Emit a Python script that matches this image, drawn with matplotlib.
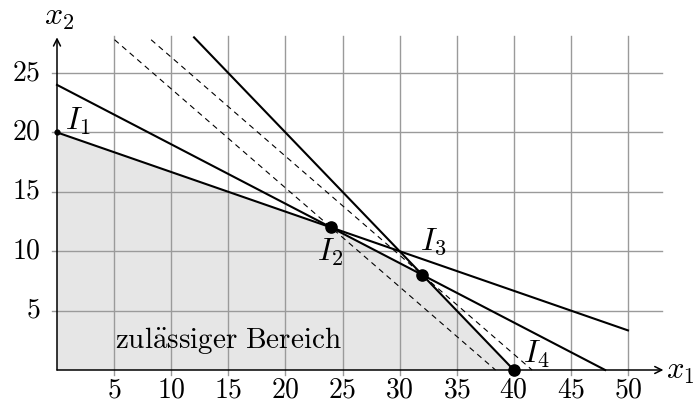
import matplotlib
matplotlib.use("Agg")
import matplotlib.pyplot as plt
import numpy as np

plt.rcParams['mathtext.fontset'] = 'cm'
plt.rcParams['font.family'] = 'serif'
plt.rcParams['font.serif'] = ['cmr10', 'DejaVu Serif']

# Data
x_ticks = [5, 10, 15, 20, 25, 30, 35, 40, 45, 50]
y_ticks = [5, 10, 15, 20, 25]
region_x = [0, 0, 24, 32, 40]
region_y = [0, 20, 12, 8, 0]
# constraint lines
line1_x = [0, 50]; line1_y = [20, 20 - 50/3]
line2_x = [0, 48]; line2_y = [24, 0]
line3_x = [12, 40]; line3_y = [28, 0]
# objective (dashed) lines through I2 and I3, slope -5/6
obj_points = [(24, 12), (32, 8)]
obj_slope = -5/6
points_x = [0, 24, 32, 40]
points_y = [20, 12, 8, 0]
point_labels = ['$I_1$', '$I_2$', '$I_3$', '$I_4$']
label_pos = [(1.85, 20.9), (23.9, 9.9), (32.9, 10.8), (42.0, 1.35)]

fig = plt.figure(figsize=(6.97, 4.08), dpi=100)
W, H = 697, 408
x0px, y0px = 57, 370
sx, sy = 11.42, 11.88
xmin, xmax = -4.9, 56
ymin, ymax = -3.2, 31
left = (x0px + xmin * sx) / W
width = (xmax - xmin) * sx / W
bottom = (H - y0px + ymin * sy) / H
height = (ymax - ymin) * sy / H
ax = fig.add_axes([left, bottom, width, height])
ax.set_xlim(xmin, xmax)
ax.set_ylim(ymin, ymax)
ax.axis('off')

# fill
ax.fill(region_x, region_y, color='#e6e6e6', zorder=1, lw=0)

# grid
gc = '#9a9a9a'
for xt in x_ticks:
    ax.plot([xt, xt], [-0.4, 28.1], color=gc, lw=1.0, zorder=2)
for yt in y_ticks:
    ax.plot([-0.45, 53.0], [yt, yt], color=gc, lw=1.0, zorder=2)

# axes with arrows
ax.annotate('', xy=(53.1, 0), xytext=(0, 0),
            arrowprops=dict(arrowstyle='->,head_length=0.5,head_width=0.25',
                            color='black', lw=1.1,
                            shrinkA=0, shrinkB=0), zorder=5)
ax.annotate('', xy=(0, 28.0), xytext=(0, 0),
            arrowprops=dict(arrowstyle='->,head_length=0.5,head_width=0.25',
                            color='black', lw=1.1,
                            shrinkA=0, shrinkB=0), zorder=5)

# constraint lines
for lx, ly in [(line1_x, line1_y), (line2_x, line2_y), (line3_x, line3_y)]:
    ax.plot(lx, ly, color='black', lw=1.5, zorder=4)

# objective lines
for px, py in obj_points:
    ytop, ybot = 27.8, 0
    xt = px + (ytop - py) / obj_slope
    xb = px + (ybot - py) / obj_slope
    ax.plot([xt, xb], [ytop, ybot], color='black', lw=0.8,
            dashes=(5, 4), zorder=3)

# points
ax.scatter(points_x[1:], points_y[1:], s=65, color='black', zorder=6)
ax.scatter(points_x[:1], points_y[:1], s=12, color='black', zorder=6)

fs = 20
lfs = 23
for lab, (lx, ly) in zip(point_labels, label_pos):
    ax.text(lx, ly, lab, fontsize=lfs, ha='center', va='center', zorder=7)

# tick labels
for xt in x_ticks:
    ax.text(xt, -1.7, '$%d$' % xt, fontsize=fs, ha='center', va='center')
for yt in y_ticks:
    ax.text(-1.45, yt, '$%d$' % yt, fontsize=fs, ha='right', va='center')

ax.text(54.6, -0.15, '$x_1$', fontsize=lfs - 1, ha='center', va='center')
ax.text(0.2, 29.6, '$x_2$', fontsize=lfs, ha='center', va='center')

ax.text(15.0, 2.45, r'$\mathrm{zul\ddot{a}ssiger\ Bereich}$', fontsize=21,
        ha='center', va='center', zorder=7)

fig.savefig('out.png', dpi=100)
